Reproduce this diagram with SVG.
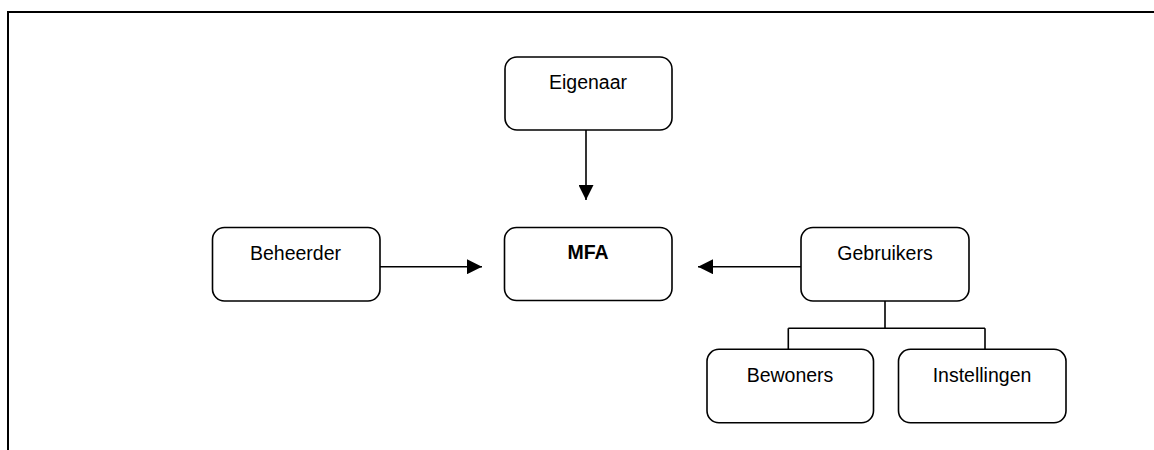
<svg xmlns="http://www.w3.org/2000/svg" width="1154" height="450" viewBox="0 0 1154 450">
<style>
.box{fill:#fff;stroke:#000;stroke-width:1.6}
.t{font-family:"Liberation Sans",Arial,sans-serif;font-size:19.5px;fill:#000;text-anchor:middle}
.b{font-weight:bold}
.c{fill:none;stroke:#000;stroke-width:1.6}
.frame{fill:none;stroke:#000;stroke-width:2}
</style>
<defs>
<marker id="ah2" viewBox="0 0 15 15" refX="15" refY="7.5" markerWidth="15" markerHeight="15" markerUnits="userSpaceOnUse" orient="auto">
<path d="M0,0 L15,7.5 L0,15 z" fill="#000"/>
</marker>
</defs>
<path class="frame" d="M8,450 L8,12 L1154,12"/>
<g id="connectors">
<line class="c" x1="586" y1="130" x2="586" y2="200" marker-end="url(#ah2)"/>
<line class="c" x1="380" y1="266.7" x2="482" y2="266.7" marker-end="url(#ah2)"/>
<line class="c" x1="801" y1="266.7" x2="698" y2="266.7" marker-end="url(#ah2)"/>
<path class="c" d="M885,301 V328.3 M788.3,328.3 H985 M788.3,328.3 V349.3 M985,328.3 V349.3"/>
</g>
<g id="eigenaar"><rect class="box" x="505" y="57" width="167" height="73" rx="12"/><text class="t" x="588" y="88.5">Eigenaar</text></g>
<g id="mfa"><rect class="box" x="504.5" y="227.5" width="167.5" height="73" rx="12"/><text class="t b" x="588" y="258.5">MFA</text></g>
<g id="beheerder"><rect class="box" x="212.5" y="227.5" width="167.5" height="73.5" rx="12"/><text class="t" x="295.5" y="260">Beheerder</text></g>
<g id="gebruikers"><rect class="box" x="801" y="227.5" width="168" height="73.5" rx="12"/><text class="t" x="885" y="260">Gebruikers</text></g>
<g id="bewoners"><rect class="box" x="707" y="349.3" width="166.5" height="73.5" rx="12"/><text class="t" x="790" y="381.7">Bewoners</text></g>
<g id="instellingen"><rect class="box" x="898.5" y="349.3" width="167.5" height="73.5" rx="12"/><text class="t" x="982" y="381.7">Instellingen</text></g>
</svg>
